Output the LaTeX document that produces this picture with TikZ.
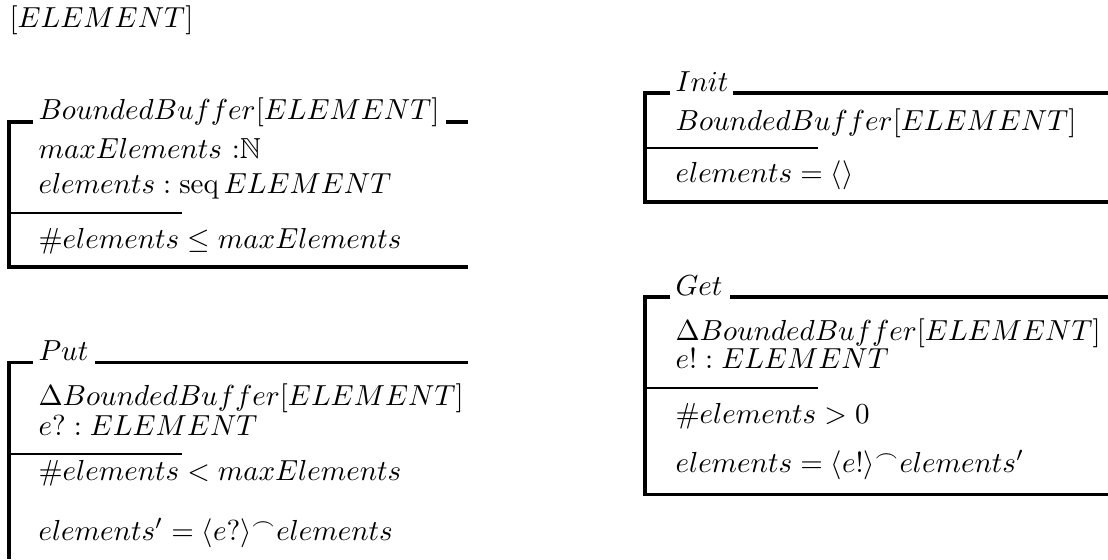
\documentclass[tikz,border=0pt]{standalone}
\usepackage{amsmath}
\usepackage{amssymb}
\usepackage{tikz}

\tikzset{
  frame/.style={line width=1.05pt},
  bar/.style={line width=0.85pt},
  zl/.style={anchor=base west, inner sep=0pt}
}
\newcommand{\zcat}{\mathord{{}^\frown}}

\begin{document}
\begin{tikzpicture}[x=0.345pt, y=-0.345pt]
\useasboundingbox (0,0) rectangle (1108,559);

\node[zl] (given) at (9,27) {$[ELEMENT]$};

% BoundedBuffer
\node[zl] (bbT) at (38,119) {$BoundedBuffer[ELEMENT]$};
\node[zl] (bb1) at (38,158) {$maxElements\ {:}\mathbb{N}$};
\node[zl] (bb2) at (38,193) {$elements : \mathrm{seq}\, ELEMENT$};
\node[zl] (bb3) at (38,248) {$\#elements \leq maxElements$};
\draw[frame] (33,122) -- (9,122) -- (9,267) -- (468,267);
\draw[frame] (446,122) -- (468,122);
\draw[bar] (9,213) -- (182,213);

% Put
\node[zl] (putT) at (38,360) {$Put$};
\node[zl] (put1) at (38,405) {$\Delta BoundedBuffer[ELEMENT]$};
\node[zl] (put2) at (38,435) {$e? : ELEMENT$};
\node[zl] (put3) at (38,480) {$\#elements < maxElements$};
\node[zl] (put4) at (38,540) {$elements' = \langle e? \rangle\zcat elements$};
\draw[frame] (33,362) -- (9,362) -- (9,559);
\draw[frame] (95,362) -- (468,362);
\draw[bar] (9,454) -- (182,454);

% Init
\node[zl] (initT) at (675,91) {$Init$};
\node[zl] (init1) at (675,130) {$BoundedBuffer[ELEMENT]$};
\node[zl] (init2) at (675,182) {$elements = \langle \rangle$};
\draw[frame] (670,93) -- (645,93) -- (645,202) -- (1108,202);
\draw[frame] (733,93) -- (1108,93);
\draw[bar] (645,148) -- (818,148);

% Get
\node[zl] (getT) at (675,295) {$Get$};
\node[zl] (get1) at (675,340) {$\Delta BoundedBuffer[ELEMENT]$};
\node[zl] (get2) at (675,368) {$e! : ELEMENT$};
\node[zl] (get3) at (675,423) {$\#elements > 0$};
\node[zl] (get4) at (675,472) {$elements = \langle e! \rangle\zcat elements'$};
\draw[frame] (670,297) -- (645,297) -- (645,494) -- (1108,494);
\draw[frame] (730,297) -- (1108,297);
\draw[bar] (645,388) -- (818,388);
\end{tikzpicture}
\end{document}
